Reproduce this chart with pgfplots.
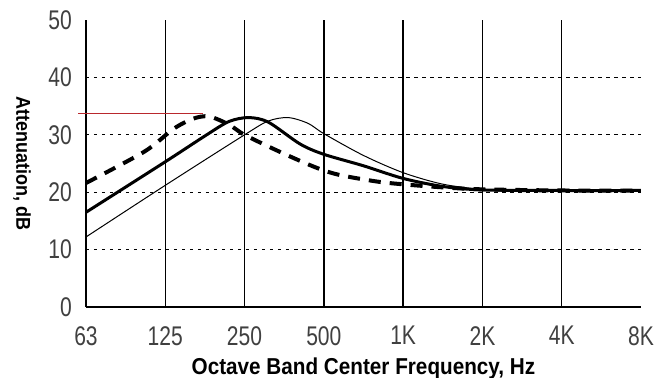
\documentclass[border=0pt]{standalone}
\usepackage{pgfplots}
\pgfplotsset{compat=1.18}
\usepackage{fontspec}
\setmainfont{Liberation Sans}
\newfontfamily\tickfont[FakeStretch=0.78]{Liberation Sans}
\newfontfamily\labfont[FakeStretch=0.9]{Liberation Sans}
\definecolor{refred}{RGB}{185,40,45}
\begin{document}
\begin{tikzpicture}
\path[use as bounding box] (-86pt,-71pt) rectangle (571pt,307pt);
\begin{axis}[
  at={(0pt,0pt)}, anchor=south west,
  width=555pt, height=287pt, scale only axis,
  xmin=0, xmax=7, ymin=0, ymax=50,
  clip=false,
  axis lines*=left,
  axis line style={line width=1.8pt, -},
  major tick length=0pt,
  xtick={0,...,7},
  xticklabels={63,125,250,500,1K,2K,4K,8K},
  ytick={0,10,...,50},
  extra x ticks={1,...,6},
  extra x tick labels={},
  extra x tick style={grid=major, major grid style={black, line width=1.5pt}},
  extra y ticks={10,20,30,40},
  extra y tick labels={},
  extra y tick style={grid=major, major grid style={black, line width=1.3pt, dash pattern=on 3.5pt off 4.5pt}},
  /pgf/number format/assume math mode=true,
  xticklabel style={font=\tickfont\fontsize{27}{27}\selectfont, text=black!75, inner sep=0pt, anchor=north, yshift=-19pt},
  yticklabel style={font=\tickfont\fontsize{27}{27}\selectfont, text=black!75, inner sep=0pt, anchor=east, xshift=-14pt},
  xlabel={Octave Band Center Frequency, Hz},
  xlabel style={font=\labfont\bfseries\fontsize{23}{23}\selectfont, at={(axis description cs:0.5,0)}, anchor=base, yshift=-67pt, inner sep=0pt},
  ylabel={Attenuation, dB},
  ylabel style={font=\labfont\bfseries\fontsize{20}{20}\selectfont, at={(axis description cs:-0.115,0.5)}, anchor=center, rotate=180, inner sep=0pt},
]
% thin solid
\addplot[black, line width=1pt, smooth] coordinates {
(0,12.2)(1,21.2)(2,30.0)(2.3,32.4)(2.55,33.0)(2.8,32.0)(3,30.2)(3.5,26.4)(4,23.4)(4.5,21.4)(5,20.5)(5.5,20.3)(6,20.2)(7,20.2)};
% thick solid
\addplot[black, line width=3pt, smooth] coordinates {
(0,16.5)(1,25.3)(1.5,29.8)(1.8,32.3)(2.05,33.0)(2.3,32.2)(2.7,28.4)(3,26.6)(3.5,24.6)(4,22.4)(4.5,21.0)(5,20.4)(6,20.3)(7,20.3)};
% thick dashed
\addplot[black, line width=4pt, smooth, dash pattern=on 12pt off 9pt] coordinates {
(0,21.6)(0.74,27.1)(1.1,31.0)(1.35,32.8)(1.55,33.2)(1.8,31.8)(2,30.0)(2.45,27.0)(2.9,24.3)(3.2,23.0)(3.7,21.8)(4.15,21.2)(4.55,20.8)(5,20.5)(6,20.3)(7,20.3)};
% red reference line
\addplot[refred, line width=1.2pt] coordinates {(-0.1,33.7)(1.48,33.7)};
\end{axis}
\end{tikzpicture}
\end{document}
